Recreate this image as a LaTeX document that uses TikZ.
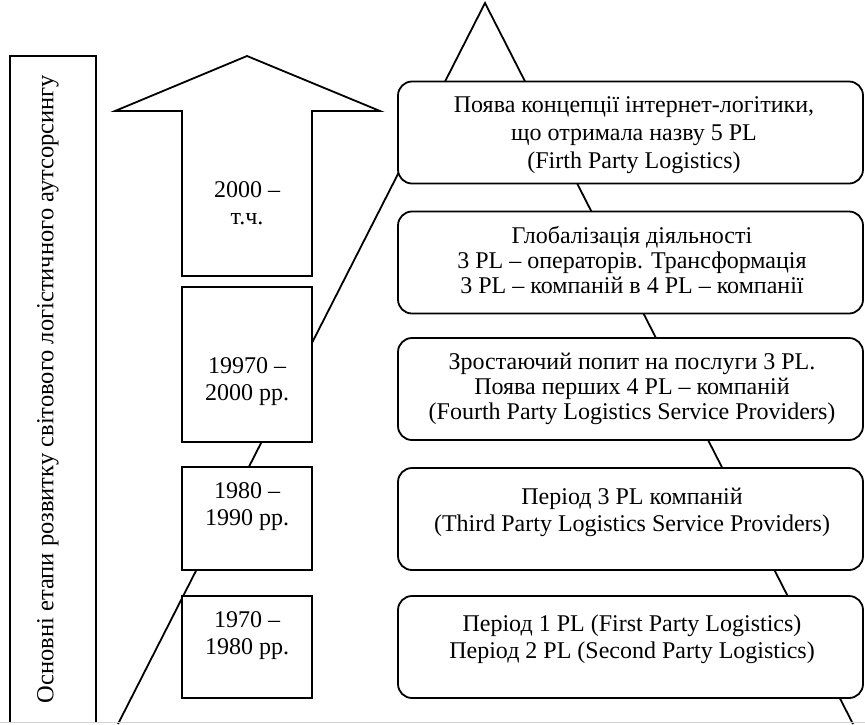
\documentclass[tikz,border=0pt]{standalone}
\usepackage{fontspec}
\setmainfont{Liberation Serif}
\usepackage{tikz}
\tikzstyle{period} = [draw, fill=white, line width=0.9pt, minimum width=65pt, inner sep=0pt]
\tikzstyle{stage} = [draw, fill=white, rounded corners=7pt, line width=0.9pt, minimum width=232.5pt, minimum height=51pt, inner sep=0pt]
\tikzstyle{words} = [align=center, inner sep=0pt, font=\fontsize{12}{13.5}\selectfont]

\begin{document}
\begin{tikzpicture}[x=0.5pt, y=-0.5pt]
    \useasboundingbox (0,0) rectangle (865,724);
    % the big triangle behind all the boxes
    \coordinate (apex) at (485,3);
    \coordinate (footL) at (118,724);
    \coordinate (footR) at (853,724);
    \draw[line width=0.9pt] (footL) -- (apex) -- (footR);
    \draw[gray!35, line width=0.7pt] (0,722.5) -- (865,722.5);

    % left frame with the vertical title
    \draw[line width=0.9pt] (10,722) |- (96,56) -- (96,722);
    \node[words, rotate=90, font=\fontsize{12.25}{14}\selectfont] (title) at (48,389) {Основні етапи розвитку світового логістичного аутсорсингу};

    % the up arrow
    \draw[line width=0.9pt, fill=white] (182,276) -- (182,111) -- (115,111) -- (247,56) -- (380,111) -- (312,111) -- (312,276) -- cycle;
    \node[words] (now) at (247,203) {2000 --\\т.ч.};

    % year boxes
    \node[period, minimum height=77.5pt] (p3) at (247,364.5) {};
    \node[words] (p3t) at (247,382) {19970 --\\2000 рр.};
    \node[period, minimum height=51.5pt] (p2) at (247,518.5) {};
    \node[words] (p2t) at (247,507) {1980 --\\1990 рр.};
    \node[period, minimum height=51pt] (p1) at (247,647) {};
    \node[words] (p1t) at (247,636) {1970 --\\1980 рр.};

    % stages on the right
    \node[stage] (s5) at (630.5,132.5) {};
    \node[words, font=\fontsize{12}{14}\selectfont] (s5t) at (634,135) {Поява концепції інтернет-логітики,\\що отримала назву 5 PL\\(Firth Party Logistics)};
    \node[stage] (s4) at (630.5,262.5) {};
    \node[words, font=\fontsize{12}{12.5}\selectfont] (s4t) at (632,260) {Глобалізація діяльності\\3 PL -- операторів. Трансформація\\3 PL -- компаній в 4 PL -- компанії};
    \node[stage] (s3) at (630.5,389) {};
    \node[words, font=\fontsize{12}{12.5}\selectfont] (s3t) at (632,389) {Зростаючий попит на послуги 3 PL.\\Поява перших 4 PL -- компаній\\(Fourth Party Logistics Service Providers)};
    \node[stage] (s2) at (630.5,519) {};
    \node[words] (s2t) at (632,512) {Період 3 PL компаній\\(Third Party Logistics Service Providers)};
    \node[stage] (s1) at (630.5,647) {};
    \node[words] (s1t) at (632,639) {Період 1 PL (First Party Logistics)\\Період 2 PL (Second Party Logistics)};
\end{tikzpicture}
\end{document}
